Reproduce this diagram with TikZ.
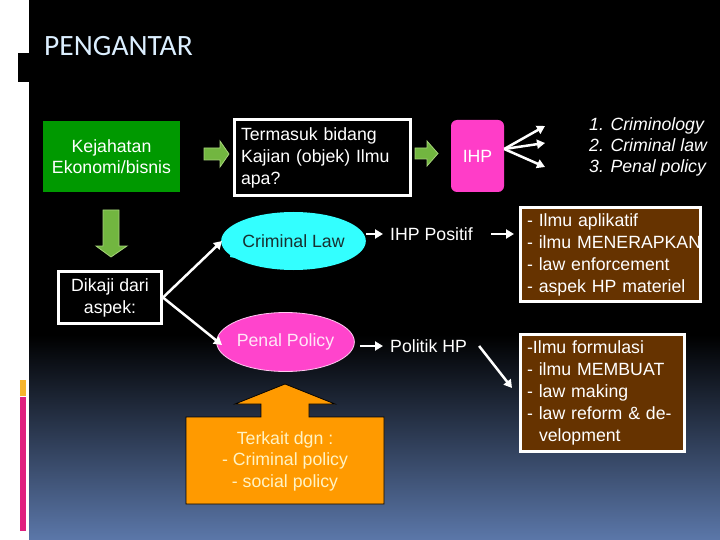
\documentclass[tikz,border=0pt]{standalone}
\usepackage{fontspec}
\setmainfont{Liberation Sans}
\newfontfamily\titlefont{Carlito}
\usetikzlibrary{arrows.meta,shapes.geometric}
\definecolor{bgblue}{HTML}{5B77A9}
\definecolor{titleblue}{HTML}{DCEFFF}
\definecolor{kgreen}{HTML}{009900}
\definecolor{lgreen}{HTML}{72B640}
\definecolor{lgreenb}{HTML}{A6D47A}
\definecolor{ihpmag}{HTML}{FF3DC8}
\definecolor{cyanf}{HTML}{33FFFF}
\definecolor{cltext}{HTML}{183030}
\definecolor{ppmag}{HTML}{FF44CC}
\definecolor{ppborder}{HTML}{FFC8F0}
\definecolor{pptext}{HTML}{FFE6F7}
\definecolor{brownf}{HTML}{663300}
\definecolor{orangef}{HTML}{FF9A00}
\definecolor{otext}{HTML}{FFF3C4}
\definecolor{stripor}{HTML}{F7B52C}
\definecolor{stripmag}{HTML}{E0207F}
\tikzset{
  txt/.style={font=\fontsize{17.7}{22}\selectfont},
  wa/.style={draw=white, line width=2.5pt, -{Triangle[length=8pt,width=9pt]}},
  garrow/.style={fill=lgreen, draw=lgreenb, line width=0.8pt},
  wbox/.style={draw=white, line width=3pt, fill=black, text=white, txt},
  bbox/.style={draw=white, line width=3pt, fill=brownf, text=white, txt, align=left, inner xsep=6.5pt},
}
\begin{document}
\begin{tikzpicture}[x=1pt,y=-1pt]
\useasboundingbox (0,0) rectangle (720,540);
\fill[white] (0,0) rectangle (720,540);
\fill[black] (29,0) rectangle (720,540);
\shade[top color=black, bottom color=bgblue] (29,335) rectangle (720,540);
% left decorations
\fill[black] (18,53) rectangle (29,82);
\fill[stripor] (20,380) rectangle (26,396);
\fill[stripmag] (20,397) rectangle (26,531);
% title
\node[anchor=west, text=titleblue, font=\titlefont\fontsize{29.5}{31}\selectfont, inner sep=0] (title) at (44,46) {PENGANTAR};
% green box
\node[fill=kgreen, minimum width=137pt, minimum height=71pt, text=white, align=center, font=\fontsize{17.7}{21}\selectfont] (kej) at (111.5,156.5) {Kejahatan\\Ekonomi/bisnis};
% green arrows
\filldraw[garrow] (204,148) -- (220,148) -- (220,141) -- (229,154) -- (220,167) -- (220,160) -- (204,160) -- cycle;
\filldraw[garrow] (415,148) -- (427,148) -- (427,141) -- (438,153.5) -- (427,166) -- (427,159) -- (415,159) -- cycle;
\filldraw[garrow] (103,210) -- (119,210) -- (119,246) -- (127,246) -- (111,257) -- (96,246) -- (103,246) -- cycle;
% Termasuk box
\node[wbox, minimum width=176pt, minimum height=76pt, text width=163pt, inner xsep=6.5pt, align=left] (ter) at (322.5,157.5) {Termasuk bidang\\Kajian (objek) Ilmu\\apa?};
% IHP
\node[fill=ihpmag, rounded corners=6pt, minimum width=53pt, minimum height=72pt, text=white, txt] (ihp) at (477.5,156) {IHP};
% list
\node[anchor=west, align=left, text=white, inner sep=0, font=\itshape\fontsize{17.7}{21}\selectfont] (list) at (589,147) {1. Criminology\\2. Criminal law\\3. Penal policy};
\coordinate (t1) at (545,126);
\coordinate (t2) at (545,143);
\coordinate (t3) at (545,167);
\draw[wa] ([yshift=7pt]ihp.east) -- (t1);
\draw[wa] ([yshift=7pt]ihp.east) -- (t2);
\draw[wa] ([yshift=7pt]ihp.east) -- (t3);
% Dikaji box
\node[wbox, minimum width=103pt, minimum height=52pt, align=center, inner sep=0] (dik) at (110,297.5) {Dikaji dari\\aspek:};
% Criminal law callout
\fill[cyanf] (232,246) -- (230,257) -- (240,259) -- cycle;
\node[ellipse, fill=cyanf, minimum width=133pt, minimum height=58pt, text=cltext, inner sep=0, txt] (cl) at (293.5,241) {Criminal Law};
% Penal policy
\node[ellipse, fill=ppmag, draw=ppborder, line width=0.8pt, minimum width=127pt, minimum height=59pt, text=pptext, inner sep=0, txt] (pp) at (285.5,342) {Penal Policy};
\coordinate (dc) at (222,241);
\coordinate (dp) at (222,345);
\draw[wa] (dik.east) -- (dc);
\draw[wa] (dik.east) -- (dp);
% IHP Positif / Politik HP
\node[anchor=west, inner sep=0, text=white, txt] (ipos) at (390,234) {IHP Positif};
\node[anchor=west, inner sep=0, text=white, txt] (pol) at (390,346) {Politik HP};
% brown boxes
\node[bbox, minimum width=180pt, minimum height=94pt, text width=167pt] (b1) at (610.5,254.5) {\mbox{- Ilmu aplikatif}\\\mbox{- ilmu MENERAPKAN}\\\mbox{- law enforcement}\\\mbox{- aspek HP materiel}};
\node[bbox, minimum width=164pt, minimum height=117pt, text width=151pt] (b2) at (602.5,393) {\mbox{-Ilmu formulasi}\\\mbox{- ilmu MEMBUAT}\\\mbox{- law making}\\\mbox{- law reform \& de-}\\\hspace*{12pt}velopment};
\draw[wa] (cl.east |- ipos.west) -- ([xshift=-7pt]ipos.west);
\draw[wa] ([xshift=18pt]ipos.east) -- ([xshift=-5pt]b1.west |- ipos.east);
\draw[wa] ([xshift=5pt]pp.east |- pol.west) -- ([xshift=-7pt]pol.west);
\draw[wa] ([xshift=12pt]pol.east) -- ([xshift=-7pt,yshift=5pt]b2.west);
% orange callout
\filldraw[fill=orangef, draw=black, line width=0.8pt] (186,417) -- (261,417) -- (261,404) -- (235,404) -- (285,384) -- (335,404) -- (309,404) -- (309,417) -- (384,417) -- (384,504) -- (186,504) -- cycle;
\node[align=center, text=otext, inner sep=0, font=\fontsize{17.7}{21.5}\selectfont] (terk) at (285,461) {Terkait dgn :\\- Criminal policy\\- social policy};
\end{tikzpicture}
\end{document}
